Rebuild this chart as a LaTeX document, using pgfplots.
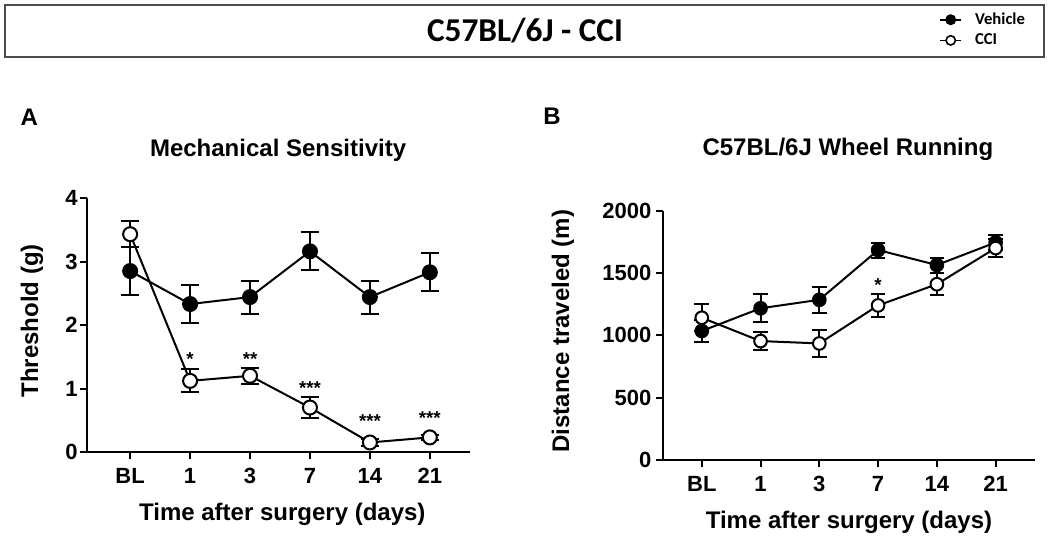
\documentclass[border=0pt]{standalone}
\usepackage{fontspec}
\setmainfont{Liberation Sans}
\newfontfamily\carlito{Carlito}
\usepackage{pgfplots}
\pgfplotsset{compat=1.18}
\usepackage{pgfplotstable}

% panel A: mechanical threshold (g), mean and error
\pgfplotstableread{
x y e
0 2.85 0.38
1 2.33 0.30
2 2.44 0.26
3 3.16 0.30
4 2.44 0.26
5 2.83 0.30
}\mechveh
\pgfplotstableread{
x y e
0 3.43 0.20
1 1.12 0.18
2 1.20 0.13
3 0.70 0.16
4 0.15 0.05
5 0.23 0.04
}\mechcci
% panel B: wheel running distance (m)
\pgfplotstableread{
x y e
0 1035 90
1 1217 112
2 1285 105
3 1684 60
4 1564 60
5 1745 60
}\wheelveh
\pgfplotstableread{
x y e
0 1141 110
1 954 75
2 935 105
3 1240 90
4 1410 90
5 1700 70
}\wheelcci

\pgfplotsset{
  panel/.style={
    scale only axis, axis lines=left, axis line style={-, line width=1.6pt},
    tick style={line width=1.5pt, black}, tick align=outside, major tick length=5.25pt,
    xtick={0,...,5}, xticklabels={BL,1,3,7,14,21},
    minor tick num=0,
    /pgf/number format/assume math mode=true,
    /pgf/number format/set thousands separator={},
    ticklabel style={font=\fontsize{16.5}{19}\selectfont\bfseries},
    xticklabel style={yshift=-3pt, text height=12pt, text depth=0pt},
    label style={font=\fontsize{18}{21}\selectfont\bfseries},
    clip=false,
  },
  veh/.style={black, line width=1.5pt, mark=*, mark options={fill=black, solid},
    error bars/.cd, y dir=both, y explicit,
    error bar style={line width=1.5pt},
    error mark options={rotate=90, line width=1.5pt, mark size=#1}},
  cci/.style={black, line width=1.5pt, mark=*, mark options={fill=white, solid},
    error bars/.cd, y dir=both, y explicit,
    error bar style={line width=1.5pt},
    error mark options={rotate=90, line width=1.5pt, mark size=#1}},
}
\tikzset{sig/.style={font=\fontsize{14}{16}\selectfont\bfseries, inner sep=0pt}}

\begin{document}
\begin{tikzpicture}
\useasboundingbox (0,0) rectangle (787.5pt,407.25pt);

\begin{axis}[panel, at={(65.25pt,68.25pt)}, anchor=south west,
  width=287.25pt, height=190.5pt,
  xmin=-0.72, xmax=5.67, ymin=0, ymax=4, ytick={0,1,2,3,4},
  yticklabel style={inner sep=1.5pt},
  xlabel={Time after surgery (days)},
  xlabel style={at={(axis description cs:0.51,-0.244)}, anchor=center},
  ylabel={Threshold (g)},
  ylabel style={at={(axis description cs:-0.1436,0.516)}, anchor=center},
]
\addplot[mark size=5.25pt, veh=7pt] table[x=x, y=y, y error=e] {\mechveh};
\addplot[mark size=5.25pt, cci=7pt] table[x=x, y=y, y error=e] {\mechcci};
\node[sig] at (axis cs:1,1.46) {*};
\node[sig] at (axis cs:2,1.46) {**};
\node[sig] at (axis cs:3,1.01) {***};
\node[sig] at (axis cs:4,0.48) {***};
\node[sig] at (axis cs:5,0.54) {***};
\node[font=\fontsize{18}{21}\selectfont\bfseries] at (axis description cs:0.499,1.189) {Mechanical Sensitivity};
\node[font=\fontsize{18}{21}\selectfont\bfseries] at (axis description cs:-0.151,1.319) {A};
\end{axis}

\begin{axis}[panel, at={(497.25pt,62.25pt)}, anchor=south west,
  width=279pt, height=187pt,
  xmin=-0.66, xmax=5.67, ymin=0, ymax=2000, ytick={0,500,1000,1500,2000},
  xlabel={Time after surgery (days)},
  xlabel style={at={(axis description cs:0.5,-0.249)}, anchor=center},
  ylabel={Distance traveled (m)},
  ylabel style={at={(axis description cs:-0.269,0.517)}, anchor=center},
  legend style={at={(axis description cs:0.743,1.805)}, anchor=north west,
    draw=none, fill=none, inner sep=0pt, row sep=1.5pt,
    font=\carlito\bfseries\fontsize{12.5}{15}\selectfont, cells={anchor=west}},
  legend image code/.code={\draw[mark repeat=2, mark phase=2]
    plot coordinates {(0cm,0cm) (0.27cm,0cm) (0.54cm,0cm)};},
]
\addlegendimage{black, line width=1.2pt, mark=*, mark size=3.5pt, mark options={fill=black}}
\addlegendentry{\hspace{8pt}Vehicle}
\addlegendimage{black, line width=1.2pt, mark=*, mark size=3.5pt, mark options={fill=white}}
\addlegendentry{\hspace{8pt}CCI}
\addplot[mark size=4.75pt, forget plot, veh=5.5pt] table[x=x, y=y, y error=e] {\wheelveh};
\addplot[mark size=4.75pt, forget plot, cci=5.5pt] table[x=x, y=y, y error=e] {\wheelcci};
\node[sig] at (axis cs:3,1400) {*};
\node[font=\fontsize{18}{21}\selectfont\bfseries] at (axis description cs:0.497,1.2475) {C57BL/6J Wheel Running};
\node[font=\fontsize{18}{21}\selectfont\bfseries] at (axis description cs:-0.298,1.38) {B};
\end{axis}

\draw[line width=1.5pt, black!70] (3.75pt,403.5pt) rectangle (783pt,364.5pt);
\node[font=\carlito\bfseries\fontsize{25}{29}\selectfont] at (393.75pt,384pt) {C57BL/6J - CCI};
\end{tikzpicture}
\end{document}
